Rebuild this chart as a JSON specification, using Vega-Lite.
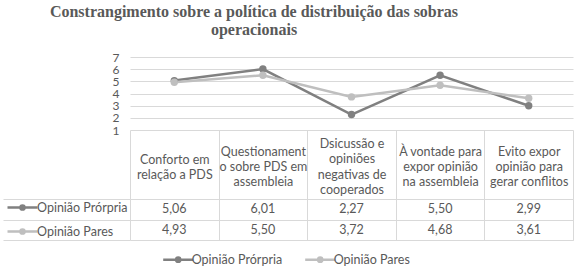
{
  "$schema": "https://vega.github.io/schema/vega-lite/v6.json",
  "padding": {"left": 2, "top": 4, "right": 0, "bottom": 0},
  "background": "white",
  "title": {
    "text": ["Constrangimento sobre a política de distribuição das sobras", "operacionais"],
    "font": "Liberation Serif",
    "fontSize": 16,
    "fontWeight": "bold",
    "color": "#595959",
    "lineHeight": 18,
    "anchor": "middle",
    "dx": -34,
    "offset": 13
  },
  "data": {
    "values": [
      {"category": "Conforto em relação a PDS", "series": "Opinião Prórpria", "value": 5.06},
      {"category": "Questionamento sobre PDS em assembleia", "series": "Opinião Prórpria", "value": 6.01},
      {"category": "Dsicussão e opiniões negativas de cooperados", "series": "Opinião Prórpria", "value": 2.27},
      {"category": "À vontade para expor opinião na assembleia", "series": "Opinião Prórpria", "value": 5.50},
      {"category": "Evito expor opinião para gerar conflitos", "series": "Opinião Prórpria", "value": 2.99},
      {"category": "Conforto em relação a PDS", "series": "Opinião Pares", "value": 4.93},
      {"category": "Questionamento sobre PDS em assembleia", "series": "Opinião Pares", "value": 5.50},
      {"category": "Dsicussão e opiniões negativas de cooperados", "series": "Opinião Pares", "value": 3.72},
      {"category": "À vontade para expor opinião na assembleia", "series": "Opinião Pares", "value": 4.68},
      {"category": "Evito expor opinião para gerar conflitos", "series": "Opinião Pares", "value": 3.61}
    ]
  },
  "bounds": "flush",
  "spacing": 69,
  "resolve": {"scale": {"color": "independent", "y": "independent", "x": "independent"}},
  "vconcat": [
    {
      "width": 443,
      "height": 73,
      "encoding": {
        "x": {
          "field": "category",
          "type": "nominal",
          "sort": null,
          "scale": {"type": "band", "paddingInner": 0, "paddingOuter": 0},
          "axis": {
            "title": null,
            "domain": false,
            "ticks": true,
            "tickBand": "extent",
            "tickSize": 69,
            "tickColor": "#d9d9d9",
            "tickWidth": 1,
            "labelExpr": "{'Conforto em relação a PDS': ['Conforto em','relação a PDS'], 'Questionamento sobre PDS em assembleia': ['Questionament','o sobre PDS em','assembleia'], 'Dsicussão e opiniões negativas de cooperados': ['Dsicussão e','opiniões','negativas de','cooperados'], 'À vontade para expor opinião na assembleia': ['À vontade para','expor opinião','na assembleia'], 'Evito expor opinião para gerar conflitos': ['Evito expor','opinião para','gerar conflitos']}[datum.value]",
            "labelAngle": 0,
            "labelAlign": "center",
            "labelBaseline": "middle",
            "labelPadding": {
              "condition": [
                {"test": "datum.value === 'Conforto em relação a PDS'", "value": -40},
                {"test": "datum.value === 'Dsicussão e opiniões negativas de cooperados'", "value": -55.5}
              ],
              "value": -47.8
            },
            "labelOverlap": false,
            "labelLineHeight": 15.3,
            "labelFont": "Lato",
            "labelFontSize": 12.5,
            "labelColor": "#595959",
            "labelLimit": 0
          }
        },
        "y": {
          "field": "value",
          "type": "quantitative",
          "scale": {"domain": [1, 7], "nice": false, "zero": false},
          "axis": {
            "title": null,
            "values": [1, 2, 3, 4, 5, 6, 7],
            "labelOverlap": false,
            "domain": false,
            "ticks": false,
            "grid": true,
            "gridColor": "#d9d9d9",
            "labelPadding": 11,
            "labelFont": "Lato",
            "labelFontSize": 12,
            "labelColor": "#595959"
          }
        },
        "color": {
          "field": "series",
          "type": "nominal",
          "scale": {"domain": ["Opinião Prórpria", "Opinião Pares"], "range": ["#808080", "#bfbfbf"]},
          "legend": {
            "orient": "none",
            "legendX": 31.7,
            "legendY": 186,
            "direction": "horizontal",
            "title": null,
            "padding": 0,
            "symbolType": "M-1,0L1,0M-0.14,0A0.14,0.14,0,1,0,0.14,0A0.14,0.14,0,1,0,-0.14,0Z",
            "symbolSize": 900,
            "symbolStrokeWidth": 2.5,
            "labelOffset": -3,
            "columnPadding": 17,
            "labelFont": "Lato",
            "labelFontSize": 12.5,
            "labelColor": "#595959",
            "encode": {
              "symbols": {
                "update": {
                  "fill": {"signal": "datum.value === 'Opinião Pares' ? '#bfbfbf' : '#808080'"},
                  "stroke": {"signal": "datum.value === 'Opinião Pares' ? '#bfbfbf' : '#808080'"},
                  "strokeWidth": {"value": 2.5},
                  "opacity": {"value": 1}
                }
              }
            }
          }
        }
      },
      "layer": [
        {"mark": {"type": "line", "strokeWidth": 2.5}},
        {"mark": {"type": "point", "filled": true, "size": 55, "opacity": 1}}
      ]
    },
    {
      "width": 443,
      "height": 41,
      "encoding": {
        "x": {
          "field": "category",
          "type": "nominal",
          "sort": null,
          "scale": {"type": "band", "paddingInner": 0, "paddingOuter": 0},
          "axis": {
            "title": null,
            "orient": "top",
            "labels": false,
            "ticks": false,
            "domain": false,
            "grid": true,
            "tickBand": "extent",
            "gridColor": "#d9d9d9"
          }
        },
        "y": {
          "field": "series",
          "type": "nominal",
          "sort": ["Opinião Prórpria", "Opinião Pares"],
          "scale": {"type": "band", "paddingInner": 0, "paddingOuter": 0}
        }
      },
      "resolve": {"axis": {"y": "independent"}},
      "layer": [
        {
          "mark": {"type": "text", "font": "Lato", "fontSize": 12.5, "align": "center", "baseline": "middle"},
          "encoding": {
            "y": {
              "field": "series",
              "type": "nominal",
              "sort": ["Opinião Prórpria", "Opinião Pares"],
              "scale": {"type": "band", "paddingInner": 0, "paddingOuter": 0},
              "axis": {
                "title": null,
                "labels": false,
                "domain": false,
                "ticks": true,
                "tickSize": 127,
                "tickBand": "extent",
                "tickColor": "#d9d9d9",
                "grid": true,
                "gridColor": "#d9d9d9"
              }
            },
            "text": {"field": "value", "type": "quantitative", "format": ".2f"},
            "color": {
              "field": "series",
              "type": "nominal",
              "scale": {"domain": ["Opinião Prórpria", "Opinião Pares"], "range": ["#595959", "#595959"]},
              "legend": {
                "orient": "none",
                "legendX": -124,
                "legendY": -8,
                "direction": "vertical",
                "title": null,
                "padding": 0,
                "rowPadding": -14.5,
                "symbolType": "M-1,0L1,0M-0.14,0A0.14,0.14,0,1,0,0.14,0A0.14,0.14,0,1,0,-0.14,0Z",
                "symbolSize": 900,
                "symbolStrokeWidth": 2.5,
                "labelOffset": -2,
                "labelFont": "Lato",
                "labelFontSize": 12.5,
                "labelColor": "#595959",
                "encode": {
                  "symbols": {
                    "update": {
                      "fill": {"signal": "datum.value === 'Opinião Pares' ? '#bfbfbf' : '#808080'"},
                      "stroke": {"signal": "datum.value === 'Opinião Pares' ? '#bfbfbf' : '#808080'"},
                      "strokeWidth": {"value": 2.5},
                      "opacity": {"value": 1}
                    }
                  }
                }
              }
            }
          }
        },
        {
          "mark": {"type": "point", "opacity": 0},
          "encoding": {
            "y": {
              "field": "series",
              "type": "nominal",
              "sort": ["Opinião Prórpria", "Opinião Pares"],
              "scale": {"type": "band", "paddingInner": 0, "paddingOuter": 0},
              "axis": {
                "title": null,
                "labels": false,
                "ticks": false,
                "grid": false,
                "domain": true,
                "domainColor": "#d9d9d9",
                "domainWidth": 1
              }
            }
          }
        }
      ]
    }
  ],
  "config": {
    "view": {"stroke": null},
    "locale": {"number": {"decimal": ",", "thousands": ".", "grouping": [3], "currency": ["", ""]}}
  }
}
